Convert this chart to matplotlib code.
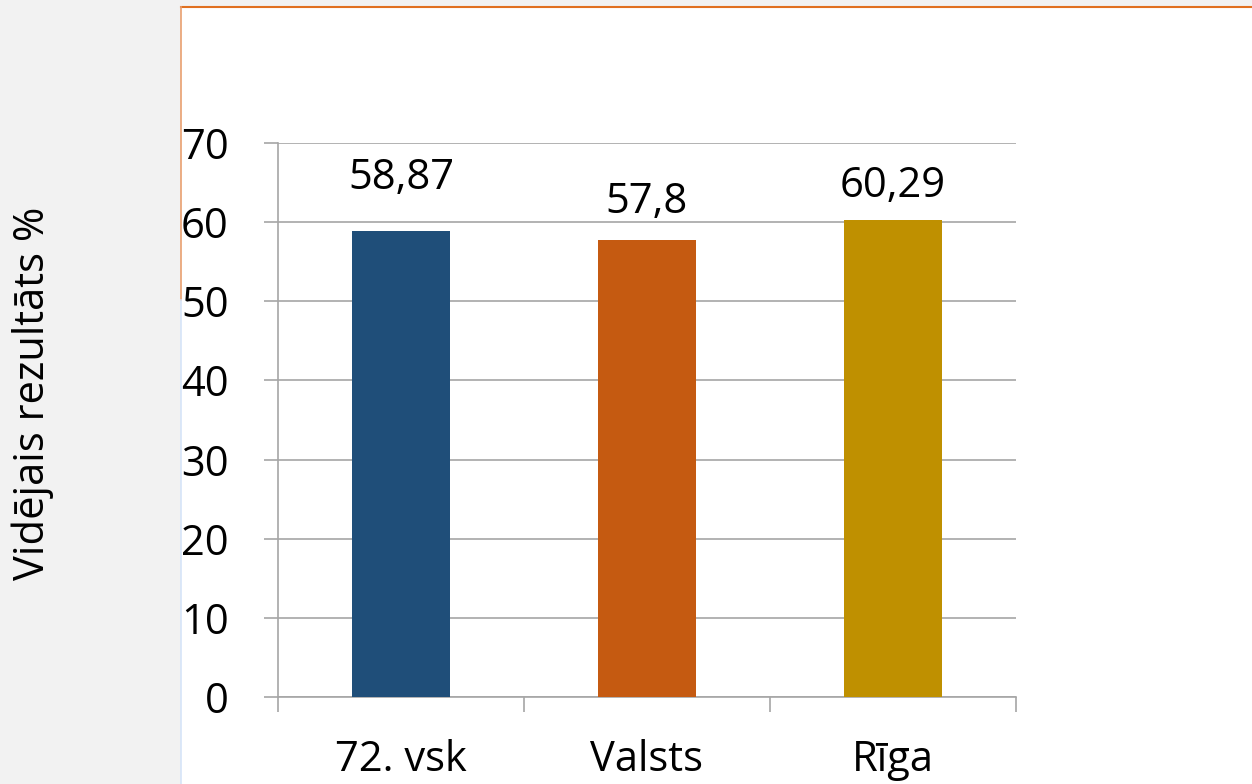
import matplotlib
matplotlib.use("Agg")
import matplotlib.pyplot as plt
from matplotlib.patches import Rectangle
from matplotlib.lines import Line2D

categories = ["72. vsk", "Valsts", "Rīga"]
values = [58.87, 57.8, 60.29]
value_labels = ["58,87", "57,8", "60,29"]
colors = ["#1F4E79", "#C55A11", "#BF9000"]
yticks = [0, 10, 20, 30, 40, 50, 60, 70]
ylabel = "Vidējais rezultāts %"

# label gap above each bar (pixels), as placed in the original
label_gaps = [42, 27, 23]

plt.rcParams['font.family'] = ['Open Sans', 'DejaVu Sans']
FS = 30

W, H = 1252, 784
fig = plt.figure(figsize=(W / 100, H / 100), dpi=100)
fig.patch.set_facecolor("#F2F2F2")

# white chart panel
fig.add_artist(Rectangle((181 / W, 0), 1 - 181 / W, 1 - 7 / H, transform=fig.transFigure,
                         facecolor="white", edgecolor="none", zorder=0))
fig.add_artist(Line2D([181 / W, 1], [1 - 7 / H, 1 - 7 / H], transform=fig.transFigure,
                      color="#E07020", lw=1.5))
fig.add_artist(Line2D([181 / W, 181 / W], [1 - 300 / H, 1 - 7 / H], transform=fig.transFigure,
                      color="#E9A070", lw=1.2))
fig.add_artist(Line2D([181 / W, 181 / W], [0, 1 - 300 / H], transform=fig.transFigure,
                      color="#D6E4F8", lw=1.2))

ax = fig.add_axes([278 / W, 1 - 697 / H, (1016 - 278) / W, (697 - 143) / H])
ax.set_facecolor("none")
x = list(range(len(categories)))
ax.bar(x, values, width=0.4, color=colors, zorder=3)
for xi, v, lab, g in zip(x, values, value_labels, label_gaps):
    ax.annotate(lab, (xi, v), xytext=(0, g), textcoords="offset pixels",
                ha="center", va="baseline", fontsize=FS, color="black")

ax.set_xlim(-0.5, 2.5)
ax.set_ylim(0, 70)
ax.set_yticks(yticks)
ax.set_yticklabels([str(t) for t in yticks], fontsize=FS)
ax.yaxis.grid(True, color="#A6A6A6", lw=1.2, zorder=0)
ax.set_axisbelow(True)

ax.set_xticks([-0.5, 0.5, 1.5, 2.5])
ax.set_xticklabels([])
ax.set_xticks(x, minor=True)
ax.set_xticklabels(categories, minor=True, fontsize=FS)
ax.tick_params(axis="x", which="minor", length=0, pad=30)
ax.tick_params(axis="x", which="major", length=11, color="#A6A6A6", width=1.2)
ax.tick_params(axis="y", length=10, color="#A6A6A6", width=1.2, pad=25.5)

for s in ["top", "right"]:
    ax.spines[s].set_visible(False)
for s in ["left", "bottom"]:
    ax.spines[s].set_color("#A6A6A6")
    ax.spines[s].set_linewidth(1.2)

fig.text(33 / W, 1 - 393 / H, ylabel, rotation=90, ha="center", va="center", fontsize=FS)

fig.savefig("out.png", dpi=100, facecolor=fig.get_facecolor())
